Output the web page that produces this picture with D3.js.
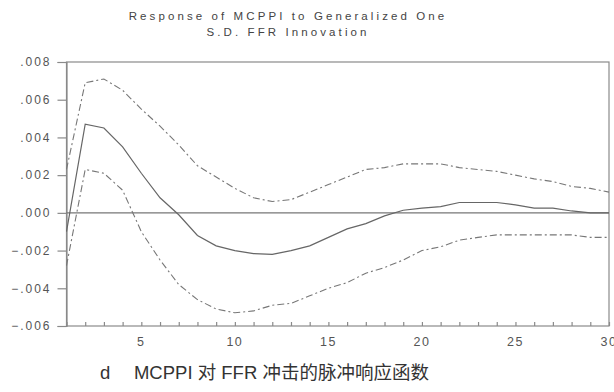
<!DOCTYPE html>
<html lang="en">
<head>
<meta charset="UTF-8">
<title>Response of MCPPI</title>
<script src="https://d3js.org/d3.v7.min.js"></script>
<style>
  body { margin: 0; background: #fff; }
</style>
</head>
<body>
<div id="chart"></div>
<script>
  // periods 1..30
  const periods = d3.range(1, 31)
  // response of MCPPI to one S.D. FFR innovation
  const response = [-0.001, 0.0047, 0.0045, 0.0035, 0.0021, 0.0008, -0.0001, -0.0012, -0.00175, -0.002,
    -0.00216, -0.0022, -0.002, -0.00175, -0.0013, -0.00085, -0.00057, -0.00016, 0.00014, 0.00025,
    0.00033, 0.00055, 0.00055, 0.00055, 0.00042, 0.00025, 0.00025, 0.0001, 0.0, 0.0]
  const upperBand = [0.0023, 0.0069, 0.0071, 0.0065, 0.0055, 0.0046, 0.0036, 0.0025, 0.0019, 0.0013,
    0.0008, 0.0006, 0.0007, 0.0011, 0.0015, 0.0019, 0.0023, 0.0024, 0.0026, 0.0026,
    0.0026, 0.0024, 0.0023, 0.0022, 0.002, 0.0018, 0.00166, 0.0014, 0.0013, 0.0011]
  const lowerBand = [-0.0028, 0.0023, 0.0021, 0.0012, -0.001, -0.0025, -0.0038, -0.0046, -0.0051, -0.0053,
    -0.0052, -0.0049, -0.0048, -0.0044, -0.004, -0.0037, -0.0032, -0.0029, -0.0025, -0.002,
    -0.0018, -0.00145, -0.0013, -0.00117, -0.00117, -0.00117, -0.00117, -0.00117, -0.0013, -0.0013]
  const yTicks = [-0.006, -0.004, -0.002, 0, 0.002, 0.004, 0.006, 0.008]
  const xTicks = [5, 10, 15, 20, 25, 30]
  const titleLines = ["Response of MCPPI to Generalized One", "S.D. FFR Innovation"]
  const caption = "d\u2003 MCPPI 对 FFR 冲击的脉冲响应函数"

  const width = 614, height = 392
  const m = {left: 66.5, right: 5, top: 62, bottom: 66}

  const svg = d3.select("#chart").append("svg")
    .attr("width", width)
    .attr("height", height)
    .style("font-family", "Arial, 'Liberation Sans', sans-serif")

  const x = d3.scaleLinear().domain([1, 30]).range([m.left, width - m.right])
  const y = d3.scaleLinear().domain([-0.006, 0.008]).range([height - m.bottom, m.top])

  const axisColor = "#8a8a8a"
  const textColor = "#555"

  // 标题
  svg.append("g").selectAll("text")
    .data(titleLines).join("text")
    .attr("x", 288)
    .attr("y", (d, i) => 20 + i * 16)
    .attr("text-anchor", "middle")
    .attr("font-size", 11.5)
    .attr("letter-spacing", 3.1)
    .attr("fill", "#444")
    .text(d => d)

  // 边框
  svg.append("rect")
    .attr("x", x(1)).attr("y", y(0.008))
    .attr("width", x(30) - x(1)).attr("height", y(-0.006) - y(0.008))
    .attr("fill", "none").attr("stroke", axisColor).attr("stroke-width", 1.2)

  // y axis
  const yAxis = svg.append("g")
    .attr("transform", `translate(${x(1)},0)`)
    .call(d3.axisLeft(y).tickValues(yTicks).tickSize(9).tickPadding(6)
      .tickFormat(d => d3.format(".3f")(d).replace("0.", ".").replace("-.000", ".000")))
  yAxis.select(".domain").attr("stroke", axisColor).attr("stroke-width", 1.2)
  yAxis.selectAll(".tick line").attr("stroke", axisColor).attr("stroke-width", 1.2)
  yAxis.selectAll("text").attr("fill", textColor).attr("font-size", 12).attr("letter-spacing", 2)

  // x axis: minor inward ticks every period
  const xAxis = svg.append("g")
    .attr("transform", `translate(0,${y(-0.006)})`)
    .call(d3.axisTop(x).tickValues(periods).tickSize(4).tickFormat(""))
  xAxis.select(".domain").remove()
  xAxis.selectAll(".tick line").attr("stroke", axisColor).attr("stroke-width", 1.2)

  svg.append("g").selectAll("text")
    .data(xTicks).join("text")
    .attr("x", d => x(d))
    .attr("y", y(-0.006) + 20)
    .attr("text-anchor", "middle")
    .attr("font-size", 12.5)
    .attr("letter-spacing", 1.5)
    .attr("fill", textColor)
    .text(d => d)

  // 零线
  svg.append("line")
    .attr("x1", x(1)).attr("x2", x(30))
    .attr("y1", y(0)).attr("y2", y(0))
    .attr("stroke", "#777").attr("stroke-width", 1.2)

  const line = d3.line().x((d, i) => x(periods[i])).y(d => y(d))

  svg.append("path").datum(upperBand)
    .attr("d", line).attr("fill", "none")
    .attr("stroke", "#777").attr("stroke-width", 1.1)
    .attr("stroke-dasharray", "7,3,2,3")
  svg.append("path").datum(lowerBand)
    .attr("d", line).attr("fill", "none")
    .attr("stroke", "#777").attr("stroke-width", 1.1)
    .attr("stroke-dasharray", "7,3,2,3")
  svg.append("path").datum(response)
    .attr("d", line).attr("fill", "none")
    .attr("stroke", "#666").attr("stroke-width", 1.2)

  // 图注
  svg.append("text")
    .attr("x", 100).attr("y", 379)
    .attr("font-family", "'Liberation Sans', 'Noto Sans CJK SC', sans-serif")
    .attr("font-size", 18.5)
    .attr("fill", "#333")
    .text(caption)
</script>
</body>
</html>
